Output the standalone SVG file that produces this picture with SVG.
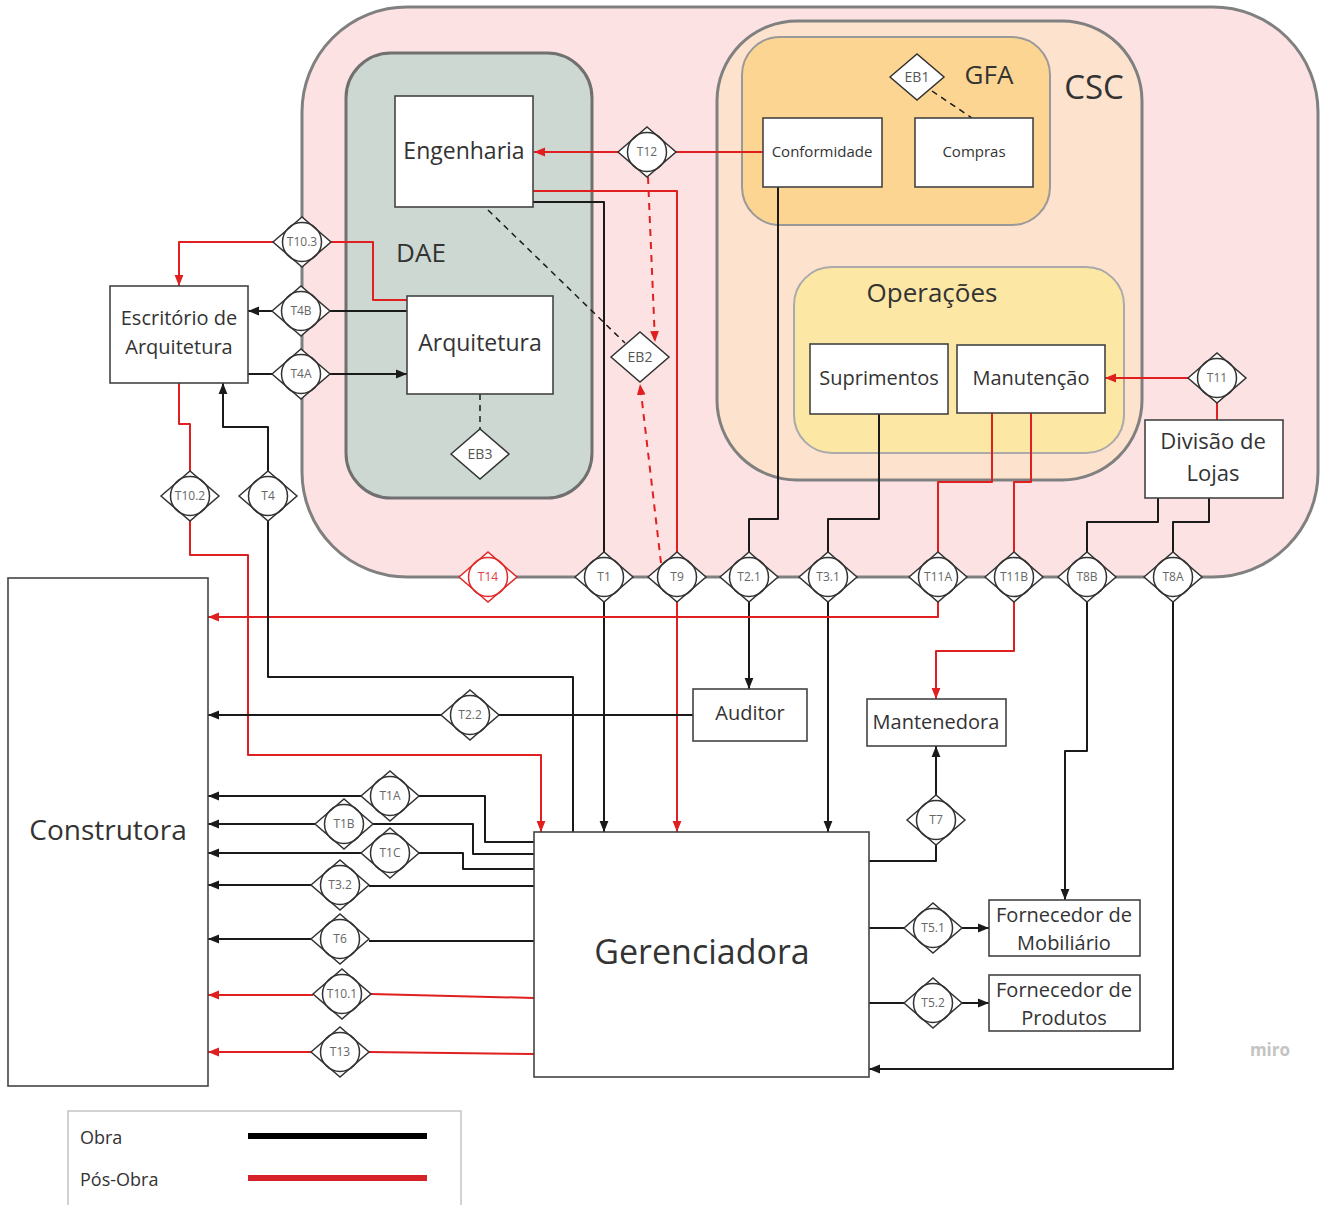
<svg xmlns="http://www.w3.org/2000/svg" width="1325" height="1205" viewBox="0 0 1325 1205">
<style>
text{font-family:"Open Sans","Liberation Sans",sans-serif;fill:#333;text-anchor:middle}
.box rect{fill:#fff;stroke:#444;stroke-width:1.6}
.tn polygon{fill:#fff;stroke:#333;stroke-width:1.5}
.tn circle{fill:none;stroke:#333;stroke-width:1.5}
.tn text{font-size:12px;fill:#666}
.tr polygon,.tr circle{stroke:#e02828}
.tr text{fill:#e04040}
.eb polygon{fill:#fff;stroke:#333;stroke-width:1.5}
.eb text{font-size:14px;fill:#555}
.k{fill:none;stroke:#1a1a1a;stroke-width:2;stroke-linejoin:round}
.r{fill:none;stroke:#e02020;stroke-width:2;stroke-linejoin:round}
.d{stroke-dasharray:7 6}
.dk{fill:none;stroke:#1a1a1a;stroke-width:1.5;stroke-dasharray:6 5}
.ak{marker-end:url(#ak)}
.ar{marker-end:url(#ar)}
</style>
<defs>
<marker id="ak" viewBox="0 0 10 10" refX="10" refY="5" markerWidth="11" markerHeight="11" markerUnits="userSpaceOnUse" orient="auto"><path d="M0,1 L10,5 L0,9 z" fill="#1a1a1a"/></marker>
<marker id="ar" viewBox="0 0 10 10" refX="10" refY="5" markerWidth="11" markerHeight="11" markerUnits="userSpaceOnUse" orient="auto"><path d="M0,1 L10,5 L0,9 z" fill="#e02020"/></marker>
</defs>
<rect width="1325" height="1205" fill="#fff"/>

<g id="containers">
<g id="CSC"><rect x="302" y="7" width="1016" height="570" rx="105" fill="#fde2e3" stroke="#808080" stroke-width="3"/></g>
<g id="CSC-inner"><rect x="717" y="21" width="425" height="459" rx="80" fill="#fde2cd" stroke="#808080" stroke-width="3"/>
<text x="1094" y="99" font-size="33">CSC</text></g>
<g id="GFA"><rect x="742" y="37" width="308" height="188" rx="38" fill="#fdd593" stroke="#999" stroke-width="2"/>
<text x="989" y="84" font-size="26">GFA</text></g>
<g id="Operacoes"><rect x="794" y="267" width="330" height="186" rx="38" fill="#fde7a5" stroke="#aaa" stroke-width="2"/>
<text x="932" y="302" font-size="26">Operações</text></g>
<g id="DAE"><rect x="346" y="53" width="246" height="445" rx="45" fill="#cdd8d2" stroke="#707070" stroke-width="3"/>
<text x="421" y="262" font-size="26">DAE</text></g>
</g>

<g id="connectors">
<path class="r" d="M763,152 H676"/>
<path class="r ar" d="M618,152 H534"/>
<path class="r d ar" d="M648,177 L655,342"/>
<path class="r d ar" d="M661,563 L640,384"/>
<path class="dk" d="M488,210 L625,343"/>
<path class="dk" d="M480,394 V429"/>
<path class="dk" d="M932,91 L972,118"/>
<path class="k" d="M533,202 H604 V552"/>
<path class="k ak" d="M604,602 V832"/>
<path class="r" d="M533,191 H677 V552"/>
<path class="r ar" d="M677,602 V832"/>
<path class="k" d="M778,187 V519 H749 V552"/>
<path class="k ak" d="M749,602 V689"/>
<path class="k" d="M879,414 V519 H828 V552"/>
<path class="k ak" d="M828,602 V832"/>
<path class="r" d="M992,413 V482 H938 V552"/>
<path class="r ar" d="M938,602 V617 H208"/>
<path class="r" d="M1031,413 V482 H1014 V552"/>
<path class="r ar" d="M1014,602 V651 H936 V699"/>
<path class="r" d="M1217,420 V403"/>
<path class="r ar" d="M1188,378 H1105"/>
<path class="k" d="M1158,498 V522 H1087 V552"/>
<path class="k ak" d="M1087,602 V751 H1065 V900"/>
<path class="k" d="M1209,498 V522 H1173 V552"/>
<path class="k ak" d="M1173,602 V1069 H869"/>
<path class="r" d="M407,300 H373 V242 H331"/>
<path class="r ar" d="M273,242 H179 V286"/>
<path class="k" d="M407,311 H330"/>
<path class="k ak" d="M272,311 H248"/>
<path class="k" d="M248,374 H272"/>
<path class="k ak" d="M330,374 H407"/>
<path class="r" d="M179,383 V424 H190 V471"/>
<path class="r ar" d="M190,521 V555 H248 V755 H541 V832"/>
<path class="k" d="M573,832 V677 H268 V521"/>
<path class="k ak" d="M268,471 V427 H223 V383"/>
<path class="k" d="M693,715 H499"/>
<path class="k ak" d="M441,715 H208"/>
<path class="k" d="M534,842 H485 V796 H419"/>
<path class="k ak" d="M361,796 H208"/>
<path class="k" d="M534,854 H473 V824 H373"/>
<path class="k ak" d="M315,824 H208"/>
<path class="k" d="M534,869 H463 V853 H419"/>
<path class="k ak" d="M361,853 H208"/>
<path class="k" d="M534,886 H369"/>
<path class="k ak" d="M311,885 H208"/>
<path class="k" d="M534,941 H369"/>
<path class="k ak" d="M311,939 H208"/>
<path class="r" d="M534,998 L371,994"/>
<path class="r ar" d="M313,995 H208"/>
<path class="r" d="M534,1054 L369,1052"/>
<path class="r ar" d="M311,1052 H208"/>
<path class="k" d="M869,861 H936 V845"/>
<path class="k ak" d="M936,795 V746"/>
<path class="k" d="M869,928 H904"/>
<path class="k ak" d="M962,928 H989"/>
<path class="k" d="M869,1003 H904"/>
<path class="k ak" d="M962,1003 H989"/>
</g>

<g id="Engenharia" class="box"><rect x="395" y="96" width="138" height="111"/><text x="464" y="159" font-size="23">Engenharia</text></g>
<g id="Arquitetura" class="box"><rect x="407" y="296" width="146" height="98"/><text x="480" y="351" font-size="23">Arquitetura</text></g>
<g id="Escritorio" class="box"><rect x="110" y="286" width="138" height="97"/><text x="179" y="325" font-size="20">Escritório de</text><text x="179" y="354" font-size="20">Arquitetura</text></g>
<g id="Conformidade" class="box"><rect x="763" y="118" width="119" height="69"/><text x="822" y="157" font-size="15">Conformidade</text></g>
<g id="Compras" class="box"><rect x="915" y="118" width="118" height="69"/><text x="974" y="157" font-size="15">Compras</text></g>
<g id="Suprimentos" class="box"><rect x="810" y="344" width="138" height="70"/><text x="879" y="385" font-size="20">Suprimentos</text></g>
<g id="Manutencao" class="box"><rect x="957" y="345" width="148" height="68"/><text x="1031" y="385" font-size="20">Manutenção</text></g>
<g id="DivisaoLojas" class="box"><rect x="1145" y="420" width="138" height="78"/><text x="1213" y="449" font-size="22">Divisão de</text><text x="1213" y="481" font-size="22">Lojas</text></g>
<g id="Construtora" class="box"><rect x="8" y="578" width="200" height="508"/><text x="108" y="840" font-size="28">Construtora</text></g>
<g id="Gerenciadora" class="box"><rect x="534" y="832" width="335" height="245"/><text x="702" y="964" font-size="34">Gerenciadora</text></g>
<g id="Auditor" class="box"><rect x="693" y="689" width="114" height="52"/><text x="750" y="720" font-size="20">Auditor</text></g>
<g id="Mantenedora" class="box"><rect x="867" y="699" width="139" height="47"/><text x="936" y="729" font-size="20">Mantenedora</text></g>
<g id="FornMobiliario" class="box"><rect x="989" y="900" width="151" height="56"/><text x="1064" y="922" font-size="20">Fornecedor de</text><text x="1064" y="950" font-size="20">Mobiliário</text></g>
<g id="FornProdutos" class="box"><rect x="989" y="975" width="151" height="56"/><text x="1064" y="997" font-size="20">Fornecedor de</text><text x="1064" y="1025" font-size="20">Produtos</text></g>

<g id="EB1" class="eb" transform="translate(917,77)"><polygon points="-27,0 0,-23 27,0 0,23"/><text y="5">EB1</text></g>
<g id="EB2" class="eb" transform="translate(640,357)"><polygon points="-29,0 0,-25 29,0 0,25"/><text y="5">EB2</text></g>
<g id="EB3" class="eb" transform="translate(480,454)"><polygon points="-29,0 0,-25 29,0 0,25"/><text y="5">EB3</text></g>

<g id="T12" class="tn" transform="translate(647,152)"><polygon points="-29,0 0,-25 29,0 0,25"/><circle r="19.5"/><text y="4">T12</text></g>
<g id="T11" class="tn" transform="translate(1217,378)"><polygon points="-29,0 0,-25 29,0 0,25"/><circle r="19.5"/><text y="4">T11</text></g>
<g id="T10.3" class="tn" transform="translate(302,242)"><polygon points="-29,0 0,-25 29,0 0,25"/><circle r="19.5"/><text y="4">T10.3</text></g>
<g id="T4B" class="tn" transform="translate(301,311)"><polygon points="-29,0 0,-25 29,0 0,25"/><circle r="19.5"/><text y="4">T4B</text></g>
<g id="T4A" class="tn" transform="translate(301,374)"><polygon points="-29,0 0,-25 29,0 0,25"/><circle r="19.5"/><text y="4">T4A</text></g>
<g id="T10.2" class="tn" transform="translate(190,496)"><polygon points="-29,0 0,-25 29,0 0,25"/><circle r="19.5"/><text y="4">T10.2</text></g>
<g id="T4" class="tn" transform="translate(268,496)"><polygon points="-29,0 0,-25 29,0 0,25"/><circle r="19.5"/><text y="4">T4</text></g>
<g id="T14" class="tn tr" transform="translate(488,577)"><polygon points="-29,0 0,-25 29,0 0,25"/><circle r="19.5"/><text y="4">T14</text></g>
<g id="T1" class="tn" transform="translate(604,577)"><polygon points="-29,0 0,-25 29,0 0,25"/><circle r="19.5"/><text y="4">T1</text></g>
<g id="T9" class="tn" transform="translate(677,577)"><polygon points="-29,0 0,-25 29,0 0,25"/><circle r="19.5"/><text y="4">T9</text></g>
<g id="T2.1" class="tn" transform="translate(749,577)"><polygon points="-29,0 0,-25 29,0 0,25"/><circle r="19.5"/><text y="4">T2.1</text></g>
<g id="T3.1" class="tn" transform="translate(828,577)"><polygon points="-29,0 0,-25 29,0 0,25"/><circle r="19.5"/><text y="4">T3.1</text></g>
<g id="T11A" class="tn" transform="translate(938,577)"><polygon points="-29,0 0,-25 29,0 0,25"/><circle r="19.5"/><text y="4">T11A</text></g>
<g id="T11B" class="tn" transform="translate(1014,577)"><polygon points="-29,0 0,-25 29,0 0,25"/><circle r="19.5"/><text y="4">T11B</text></g>
<g id="T8B" class="tn" transform="translate(1087,577)"><polygon points="-29,0 0,-25 29,0 0,25"/><circle r="19.5"/><text y="4">T8B</text></g>
<g id="T8A" class="tn" transform="translate(1173,577)"><polygon points="-29,0 0,-25 29,0 0,25"/><circle r="19.5"/><text y="4">T8A</text></g>
<g id="T2.2" class="tn" transform="translate(470,715)"><polygon points="-29,0 0,-25 29,0 0,25"/><circle r="19.5"/><text y="4">T2.2</text></g>
<g id="T1A" class="tn" transform="translate(390,796)"><polygon points="-29,0 0,-25 29,0 0,25"/><circle r="19.5"/><text y="4">T1A</text></g>
<g id="T1B" class="tn" transform="translate(344,824)"><polygon points="-29,0 0,-25 29,0 0,25"/><circle r="19.5"/><text y="4">T1B</text></g>
<g id="T1C" class="tn" transform="translate(390,853)"><polygon points="-29,0 0,-25 29,0 0,25"/><circle r="19.5"/><text y="4">T1C</text></g>
<g id="T3.2" class="tn" transform="translate(340,885)"><polygon points="-29,0 0,-25 29,0 0,25"/><circle r="19.5"/><text y="4">T3.2</text></g>
<g id="T6" class="tn" transform="translate(340,939)"><polygon points="-29,0 0,-25 29,0 0,25"/><circle r="19.5"/><text y="4">T6</text></g>
<g id="T10.1" class="tn" transform="translate(342,994)"><polygon points="-29,0 0,-25 29,0 0,25"/><circle r="19.5"/><text y="4">T10.1</text></g>
<g id="T13" class="tn" transform="translate(340,1052)"><polygon points="-29,0 0,-25 29,0 0,25"/><circle r="19.5"/><text y="4">T13</text></g>
<g id="T7" class="tn" transform="translate(936,820)"><polygon points="-29,0 0,-25 29,0 0,25"/><circle r="19.5"/><text y="4">T7</text></g>
<g id="T5.1" class="tn" transform="translate(933,928)"><polygon points="-29,0 0,-25 29,0 0,25"/><circle r="19.5"/><text y="4">T5.1</text></g>
<g id="T5.2" class="tn" transform="translate(933,1003)"><polygon points="-29,0 0,-25 29,0 0,25"/><circle r="19.5"/><text y="4">T5.2</text></g>

<g id="legend">
<rect x="68" y="1111" width="393" height="104" fill="#fff" stroke="#c4c4c4" stroke-width="1.5"/>
<text x="80" y="1144" font-size="18" style="text-anchor:start">Obra</text>
<text x="80" y="1186" font-size="18" style="text-anchor:start">Pós-Obra</text>
<line x1="248" y1="1136" x2="427" y2="1136" stroke="#000" stroke-width="6"/>
<line x1="248" y1="1178" x2="427" y2="1178" stroke="#d42228" stroke-width="6"/>
</g>
<text x="1270" y="1056" font-size="17" style="fill:#c4c4c4;font-weight:bold">miro</text>
</svg>
